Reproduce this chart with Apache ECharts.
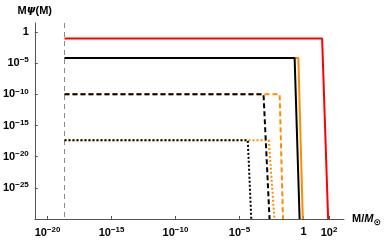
<!DOCTYPE html>
<html><head><meta charset="utf-8">
<script src="https://cdn.jsdelivr.net/npm/echarts@6/dist/echarts.min.js"></script>
<style>html,body{margin:0;padding:0;background:#fff}#c{width:386px;height:242px}</style>
</head><body><div id="c"></div>
<script>
// log10(M/Msun), log10(M psi)
const cutoffX = -18.68;
const redX = [cutoffX, 1.46, 1.93];
const redY = [-1.05, -1.05, -30];
const blackSolidX = [cutoffX, -0.69, -0.30];
const blackSolidY = [-4.15, -4.15, -30];
const orangeSolidX = [cutoffX, -0.40, -0.05];
const orangeSolidY = [-4.15, -4.15, -30];
const blackDashedX = [cutoffX, -3.12, -2.65];
const blackDashedY = [-10, -10, -30];
const orangeDashedX = [cutoffX, -1.86, -1.60];
const orangeDashedY = [-10, -10, -30];
const blackDottedX = [cutoffX, -4.35, -4.08];
const blackDottedY = [-17.35, -17.35, -30];
const orangeDottedX = [cutoffX, -2.71, -2.27];
const orangeDottedY = [-17.35, -17.35, -30];
const cutLineX = [cutoffX, cutoffX];
const cutLineY = [1.45, -30];
const xTickExp = [-20, -15, -10, -5, 0, 2];
const yTickExp = [0, -5, -10, -15, -20, -25];

function pts(xs, ys){ return xs.map((x,i)=>[x, ys[i]]); }
function fmt(v){
  const n = Math.round(v);
  if (n === 0) return '{b|1}';
  return '{b|10}{s|' + (n < 0 ? '\u2212' + (-n) : String(n)) + '}';
}
const FONT = 'Liberation Sans';
const rich = {
  b: {fontSize: 11, fontWeight: 'bold', fontFamily: FONT, color: '#000'},
  s: {fontSize: 8, fontWeight: 'bold', fontFamily: FONT, color: '#000', verticalAlign: 'top', padding: [0,0,6,0]}
};
const ORANGE = '#ff8c00', RED = '#ff0000', BLACK = '#000';
function line(xs, ys, color, type, z){
  return {type: 'line', data: pts(xs, ys), symbol: 'none', z: z, animation: false,
    lineStyle: {color: color, width: 2, type: type}};
}
const nameBase = {fontSize: 11, fontWeight: 'bold', fontFamily: FONT, color: '#000'};
const chart = echarts.init(document.getElementById('c'), null, {renderer: 'canvas'});
chart.setOption({
  animation: false,
  grid: {left: 34, right: 42, top: 23, bottom: 23, containLabel: false},
  xAxis: {
    type: 'value', min: -21, max: 3.17,
    name: '{n|M/}{i|M}{sub|\u2299}', nameLocation: 'end', nameGap: 8,
    nameTextStyle: {rich: {
      n: nameBase,
      i: Object.assign({}, nameBase, {fontStyle: 'italic'}),
      sub: {fontSize: 9, fontWeight: 'bold', fontFamily: 'DejaVu Sans', color: '#000', verticalAlign: 'bottom', padding: [8,0,0,0]}
    }},
    splitLine: {show: false},
    axisLine: {onZero: false, lineStyle: {color: '#555', width: 1}},
    axisTick: {inside: true, length: 3, customValues: xTickExp, lineStyle: {color: '#555'}},
    axisLabel: {customValues: xTickExp, formatter: fmt, rich: rich, margin: 7}
  },
  yAxis: {
    type: 'value', min: -30, max: 1.45,
    name: '{n|M}{i|\u03c8}{n|(M)}', nameLocation: 'end', nameGap: 7,
    nameTextStyle: {align: 'center', rich: {
      n: nameBase,
      i: Object.assign({}, nameBase, {fontStyle: 'italic', fontFamily: 'DejaVu Sans'})
    }},
    splitLine: {show: false},
    axisLine: {onZero: false, lineStyle: {color: '#555', width: 1}},
    axisTick: {inside: true, length: 3, customValues: yTickExp, lineStyle: {color: '#555'}},
    axisLabel: {customValues: yTickExp, formatter: fmt, rich: rich, margin: 6}
  },
  series: [
    {type: 'line', data: pts(cutLineX, cutLineY), symbol: 'none', z: 1,
      lineStyle: {color: '#888', width: 1, type: [5, 4]}},
    line(orangeSolidX, orangeSolidY, ORANGE, 'solid', 2),
    line(orangeDashedX, orangeDashedY, ORANGE, [5, 3], 2),
    line(orangeDottedX, orangeDottedY, ORANGE, [2, 2], 2),
    line(blackSolidX, blackSolidY, BLACK, 'solid', 3),
    line(blackDashedX, blackDashedY, BLACK, [5, 3], 3),
    line(blackDottedX, blackDottedY, BLACK, [2, 2], 3),
    line(redX, redY, RED, 'solid', 4)
  ]
});
</script></body></html>
